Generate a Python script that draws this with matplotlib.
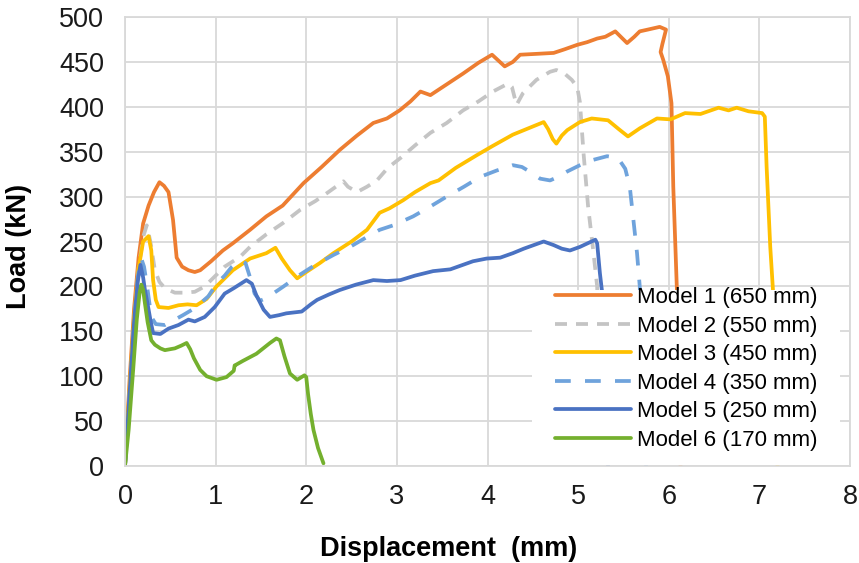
import matplotlib
matplotlib.use("Agg")
import matplotlib.pyplot as plt
from matplotlib.patches import Rectangle

plt.rcParams['font.family'] = ['Liberation Sans', 'DejaVu Sans']

# Load–displacement curves for the six models
m1_disp = [0, 0.05, 0.1, 0.15, 0.2, 0.26, 0.32, 0.38, 0.43, 0.48, 0.53, 0.57, 0.63, 0.7, 0.77, 0.83,
           0.95, 1.08, 1.19, 1.38, 1.56, 1.74, 1.97, 2.17, 2.37, 2.56, 2.74, 2.89, 3.03, 3.15, 3.26,
           3.37, 3.55, 3.73, 3.9, 4.05, 4.19, 4.28, 4.36, 4.55, 4.73, 4.85, 4.99, 5.1, 5.21, 5.3,
           5.41, 5.54, 5.62, 5.68, 5.77, 5.9, 5.97, 5.93, 5.91, 5.94, 5.99, 6.03, 6.05, 6.09, 6.13]
m1_load = [0, 95, 175, 232, 270, 290, 305, 316, 312, 305, 274, 232, 222, 218, 216, 218,
           228, 240, 248, 263, 278, 290, 315, 333, 352, 368, 382, 387, 396, 406, 417,
           413, 425, 437, 449, 458, 445, 450, 458, 459, 460, 464, 469, 472, 476, 478,
           484, 471, 478, 484, 486, 489, 486, 470, 461, 452, 434, 404, 311, 196, 0]

m2_disp = [0, 0.05, 0.1, 0.15, 0.2, 0.24, 0.28, 0.33, 0.38, 0.44, 0.55, 0.66, 0.77, 0.88, 0.99,
           1.1, 1.27, 1.38, 1.56, 1.75, 1.93, 2.1, 2.23, 2.41, 2.46, 2.56, 2.67, 2.78, 2.9, 3.04,
           3.2, 3.37, 3.55, 3.73, 3.9, 4.06, 4.23, 4.27, 4.32, 4.39, 4.54, 4.69, 4.76, 4.85, 4.93,
           4.99, 5.02, 5.06, 5.11, 5.17, 5.21, 5.26]
m2_load = [0, 80, 160, 220, 255, 268, 250, 218, 205, 198, 193, 193, 194, 200, 211,
           222, 233, 244, 258, 271, 285, 295, 304, 317, 311, 305, 311, 318, 332, 343,
           357, 371, 382, 396, 406, 417, 426, 422, 402, 415, 430, 439, 441, 437, 430,
           422, 405, 348, 289, 237, 200, 0]

m3_disp = [0, 0.05, 0.1, 0.15, 0.2, 0.26, 0.29, 0.31, 0.34, 0.37, 0.48, 0.59, 0.69, 0.79, 0.9,
           1.01, 1.19, 1.38, 1.56, 1.66, 1.73, 1.82, 1.9, 2.0, 2.15, 2.3, 2.5, 2.67, 2.81, 2.92,
           3.07, 3.2, 3.37, 3.46, 3.65, 3.88, 4.05, 4.28, 4.45, 4.62, 4.67, 4.72, 4.76, 4.82,
           4.88, 5.02, 5.15, 5.33, 5.45, 5.55, 5.68, 5.87, 6.02, 6.18, 6.35, 6.55, 6.66, 6.75,
           6.88, 7.03, 7.06, 7.08, 7.12, 7.15, 7.2]
m3_load = [0, 85, 165, 220, 250, 256, 240, 207, 185, 177, 176, 179, 180, 179, 186,
           200, 218, 231, 237, 243, 231, 218, 209, 216, 226, 237, 250, 263, 282, 287,
           296, 305, 315, 318, 332, 346, 356, 369, 376, 383, 375, 364, 359, 368,
           374, 383, 387, 385, 375, 367, 376, 387, 386, 393, 392, 399, 396, 399,
           395, 393, 389, 333, 244, 196, 0]

m4_disp = [0, 0.05, 0.1, 0.14, 0.18, 0.21, 0.24, 0.29, 0.34, 0.44, 0.55, 0.64, 0.74, 0.83, 0.92,
           1.01, 1.1, 1.18, 1.27, 1.33, 1.38, 1.43, 1.49, 1.56, 1.75, 1.93, 2.1, 2.3, 2.5, 2.67,
           2.81, 2.96, 3.18, 3.37, 3.55, 3.74, 3.92, 4.1, 4.28, 4.38, 4.48, 4.58, 4.69, 4.78,
           4.88, 5.02, 5.17, 5.32, 5.44, 5.52, 5.57, 5.61, 5.65, 5.68, 5.75]
m4_load = [0, 80, 160, 210, 231, 222, 203, 166, 158, 157, 163, 168, 174, 181, 189,
           203, 212, 222, 229, 226, 210, 192, 184, 187, 200, 213, 224, 235, 245, 255,
           263, 268, 278, 289, 300, 311, 322, 329, 335, 333, 327, 320, 318, 322,
           328, 335, 341, 345, 343, 331, 311, 274, 237, 200, 0]

m5_disp = [0, 0.05, 0.1, 0.14, 0.17, 0.2, 0.22, 0.25, 0.28, 0.31, 0.39, 0.48, 0.59, 0.7, 0.77,
           0.88, 0.99, 1.1, 1.2, 1.34, 1.4, 1.45, 1.53, 1.6, 1.7, 1.78, 1.95, 2.05, 2.12, 2.25,
           2.37, 2.55, 2.74, 2.89, 3.04, 3.2, 3.4, 3.59, 3.84, 3.99, 4.14, 4.28, 4.4, 4.62,
           4.73, 4.82, 4.91, 5.02, 5.19, 5.21, 5.24, 5.27, 5.33]
m5_load = [0, 80, 160, 205, 224, 210, 196, 180, 163, 148, 147, 153, 157, 163, 161,
           166, 177, 192, 198, 207, 203, 190, 174, 166, 168, 170, 172, 180, 185, 191,
           196, 202, 207, 206, 207, 212, 217, 219, 228, 231, 232, 237, 242, 250,
           246, 242, 240, 244, 252, 248, 215, 189, 0]

m6_disp = [0, 0.04, 0.09, 0.13, 0.16, 0.18, 0.2, 0.22, 0.25, 0.29, 0.33, 0.39, 0.44, 0.55, 0.62,
           0.68, 0.72, 0.76, 0.83, 0.9, 1.01, 1.12, 1.2, 1.21, 1.23, 1.3, 1.45, 1.6, 1.67, 1.71,
           1.76, 1.82, 1.9, 1.98, 2.0, 2.02, 2.05, 2.08, 2.13, 2.19]
m6_load = [0, 40, 107, 163, 192, 202, 196, 181, 160, 140, 135, 131, 129, 131, 134,
           137, 130, 120, 107, 100, 96, 99, 106, 112, 113, 117, 125, 137, 142, 140,
           122, 103, 96, 101, 99, 80, 58, 40, 20, 3]

labels = ["Model 1 (650 mm)", "Model 2 (550 mm)", "Model 3 (450 mm)",
          "Model 4 (350 mm)", "Model 5 (250 mm)", "Model 6 (170 mm)"]
colors = ["#ED7D31", "#C4C4C4", "#FFC000", "#6FA3DC", "#4A72C2", "#74B02E"]
x_ticks = [0, 1, 2, 3, 4, 5, 6, 7, 8]
y_ticks = [0, 50, 100, 150, 200, 250, 300, 350, 400, 450, 500]

series = [(m1_disp, m1_load), (m2_disp, m2_load), (m3_disp, m3_load),
          (m4_disp, m4_load), (m5_disp, m5_load), (m6_disp, m6_load)]
styles = [dict(), dict(dashes=(3.2, 2.4)), dict(), dict(dashes=(4.2, 3.8)), dict(), dict()]

fig = plt.figure(figsize=(8.59, 5.63), dpi=100)
ax = fig.add_axes([125 / 859, 97 / 563, 725 / 859, 449 / 563])

for (xd, yd), lab, col, st in zip(series, labels, colors, styles):
    ax.plot(xd, yd, color=col, lw=2.7, label=lab, solid_joinstyle='round',
            solid_capstyle='round', dash_capstyle='butt', **st)

ax.set_xlim(0, 8)
ax.set_ylim(0, 500)
ax.set_xticks(x_ticks)
ax.set_yticks(y_ticks)
ax.grid(True, color="#D9D9D9", lw=1.3)
ax.set_axisbelow(True)
for sp in ax.spines.values():
    sp.set_color("#D9D9D9")
    sp.set_linewidth(1.3)
ax.tick_params(length=0, labelsize=19.5, colors="#1a1a1a")
ax.tick_params(axis='y', pad=15)
ax.tick_params(axis='x', pad=13)

ax.set_xlabel("Displacement  (mm)", fontsize=19.5, fontweight='bold')
ax.xaxis.set_label_coords((449 - 125) / 725, -0.155)
ax.set_ylabel("Load (kN)", fontsize=19.5, fontweight='bold')
ax.yaxis.set_label_coords(-(125 - 32) / 725, 0.49)

# white panel behind the legend, hiding the curves' drops
ax.add_patch(Rectangle(((532 - 125) / 725, (466 - 465) / 449), (840 - 532) / 725,
                       (465 - 290) / 449, transform=ax.transAxes, facecolor='white',
                       edgecolor='none', zorder=8))

leg = ax.legend(loc='upper left', bbox_to_anchor=((555 - 125) / 725, (466 - 287) / 449),
                fontsize=16, frameon=False, handlelength=3.4, handletextpad=0.3,
                labelspacing=0.34, borderpad=0.0, borderaxespad=0)
leg.set_zorder(10)

fig.savefig("out.png", dpi=100)
